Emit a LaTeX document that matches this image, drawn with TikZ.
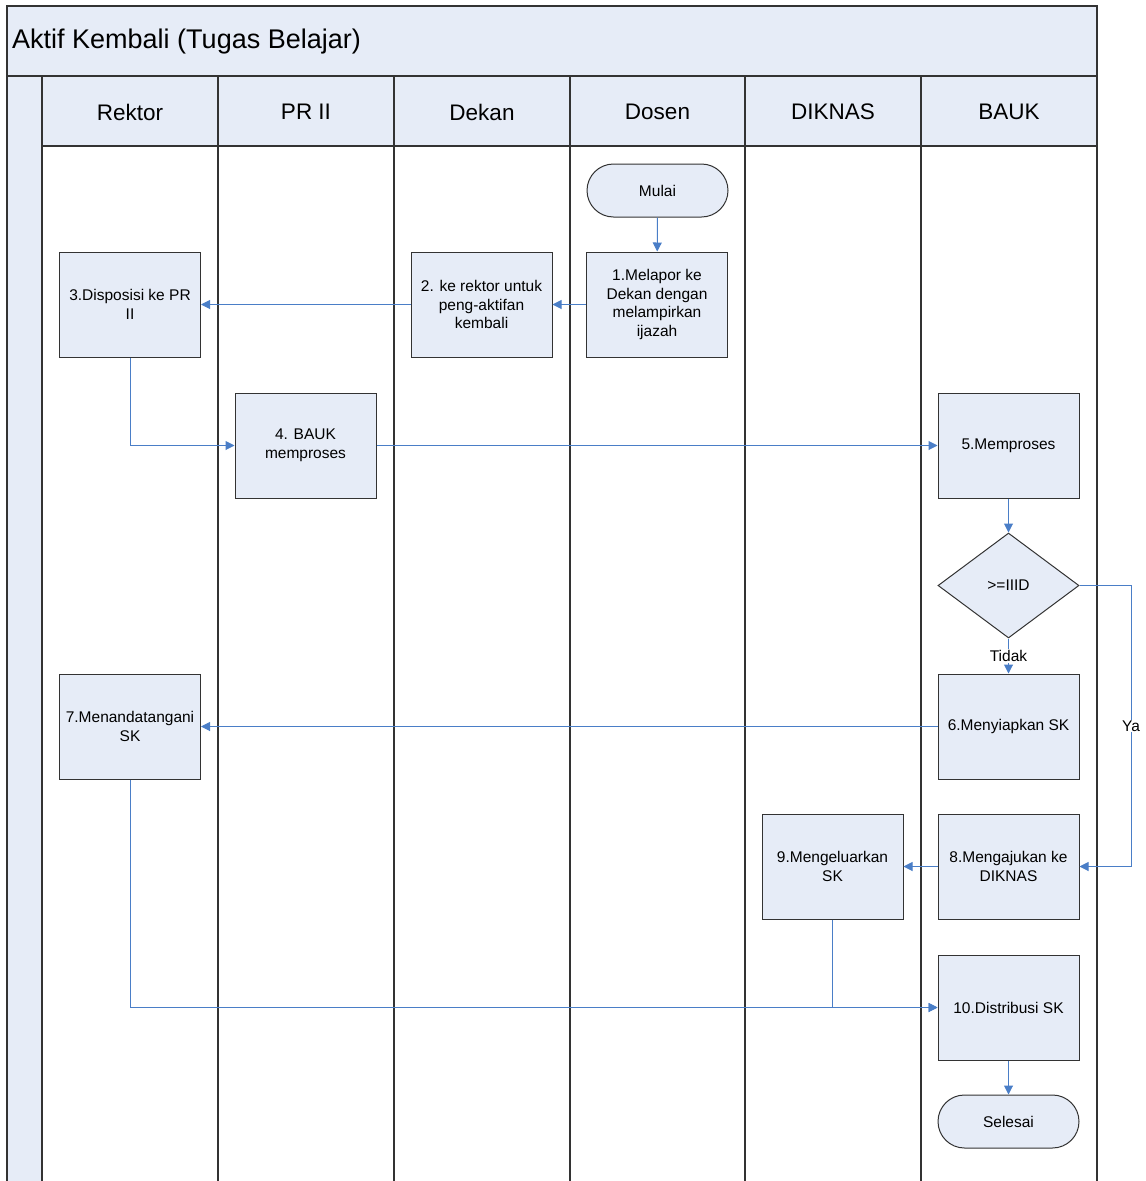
\documentclass[tikz,border=0pt]{standalone}
\usepackage{fontspec}
\setmainfont{Liberation Sans}
\usetikzlibrary{arrows.meta,shapes.geometric,shapes.misc,positioning}
\definecolor{lanefill}{HTML}{E6ECF7}
\definecolor{conn}{HTML}{4A7EC7}
\definecolor{frame}{HTML}{333333}
\begin{document}
\begin{tikzpicture}[x=1pt,y=-1pt,
  boxstyle/.style={draw=frame,line width=1pt,fill=lanefill,minimum width=141pt,minimum height=105pt,inner sep=2pt,align=center,font=\fontsize{15.5}{18.5}\selectfont},
  termstyle/.style={draw=frame,line width=1pt,fill=lanefill,shape=rounded rectangle,minimum width=141pt,minimum height=53pt,inner sep=0pt,font=\fontsize{15.5}{18.5}\selectfont},
  decstyle/.style={draw=frame,line width=1pt,fill=lanefill,shape=diamond,minimum width=141pt,minimum height=105pt,inner sep=0pt,font=\fontsize{15.5}{18.5}\selectfont},
  headstyle/.style={font=\fontsize{22.5}{26}\selectfont},
  conline/.style={draw=conn,line width=1pt,-{Triangle[length=9pt,width=9pt]}},
  lblstyle/.style={font=\fontsize{15.5}{18}\selectfont,fill=white,inner sep=1pt}
]
\useasboundingbox (0,0) rectangle (1146,1181);
% frame and lanes
\fill[lanefill] (7,6) rectangle (1097,76);
\fill[lanefill] (7,76) rectangle (42,1181);
\fill[lanefill] (42,76) rectangle (1097,146);
\draw[frame,line width=1.5pt] (7,1181) -- (7,6) -- (1097,6) -- (1097,1181);
\draw[frame,line width=1.5pt] (7,76) -- (1097,76);
\draw[frame,line width=1.5pt] (42,146) -- (1097,146);
\foreach \xx in {42,218,394,570,745,921}
  \draw[frame,line width=1.5pt] (\xx,76) -- (\xx,1181);
\node[anchor=west,font=\fontsize{27}{31}\selectfont,inner sep=0pt] (title) at (12,42) {Aktif Kembali (Tugas Belajar)};
\node[headstyle] (hrektor) at (130,112) {Rektor};
\node[headstyle] (hpr) at (306,112) {PR II};
\node[headstyle] (hdekan) at (482,112) {Dekan};
\node[headstyle] (hdosen) at (657.5,112) {Dosen};
\node[headstyle] (hdiknas) at (833,112) {DIKNAS};
\node[headstyle] (hbauk) at (1009,112) {BAUK};
% nodes
\node[termstyle] (mulai) at (657.5,190.5) {Mulai};
\node[boxstyle] (b1) at (657,304.5) {1.Melapor ke\\Dekan dengan\\melampirkan\\ijazah};
\node[boxstyle] (b2) at (481.5,304.5) {2. ke rektor untuk\\peng-aktifan\\kembali};
\node[boxstyle] (b3) at (130,304.5) {3.Disposisi ke PR\\II};
\node[boxstyle] (b4) at (305.5,445.5) {4. BAUK\\memproses};
\node[boxstyle] (b5) at (1008.5,445.5) {5.Memproses};
\node[decstyle] (d) at (1008.5,585.5) {>=IIID};
\node[boxstyle] (b6) at (1008.5,726.5) {6.Menyiapkan SK};
\node[boxstyle] (b7) at (130,726.5) {7.Menandatangani\\SK};
\node[boxstyle] (b8) at (1008.5,866.5) {8.Mengajukan ke\\DIKNAS};
\node[boxstyle] (b9) at (832.5,866.5) {9.Mengeluarkan\\SK};
\node[boxstyle] (b10) at (1008.5,1007.5) {10.Distribusi SK};
\node[termstyle] (selesai) at (1008.5,1121.5) {Selesai};
\coordinate (yaturn) at (1131,585.5);
% connectors
\draw[conline] (mulai) -- (b1);
\draw[conline] (b1) -- (b2);
\draw[conline] (b2) -- (b3);
\draw[conline] (b3.south) |- (b4.west);
\draw[conline] (b4) -- (b5);
\draw[conline] (b5) -- (d);
\draw[conline] (d.south) -- node[lblstyle] {Tidak} (b6.north);
\draw[conline] (d.east) -- (yaturn) |- node[lblstyle,pos=0.25] {Ya} (b8.east);
\draw[conline] (b6) -- (b7);
\draw[conline] (b8) -- (b9);
\draw[conline] (b7.south) |- (b10.west);
\draw[conline] (b9.south) |- (b10.west);
\draw[conline] (b10) -- (selesai);
\end{tikzpicture}
\end{document}
